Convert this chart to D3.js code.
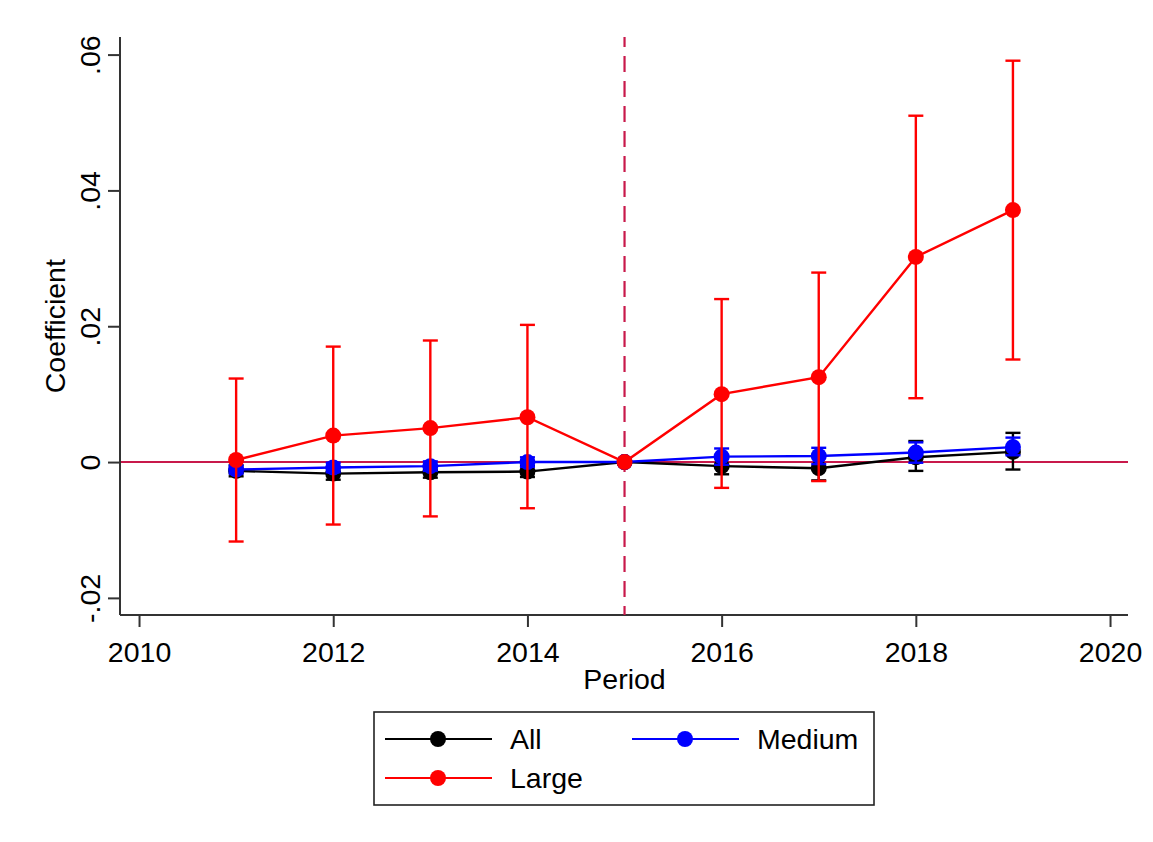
<!DOCTYPE html>
<html>
<head>
<meta charset="utf-8">
<script src="https://cdn.jsdelivr.net/npm/d3@7"></script>
<style>
  html, body { margin: 0; padding: 0; background: #fff; }
  svg { display: block; font-family: "Liberation Sans", Arial, sans-serif; }
</style>
</head>
<body>
<svg id="chart" width="1153" height="842"></svg>
<script>
// Event-study coefficients by period, with confidence bounds
const periods = [2011, 2012, 2013, 2014, 2015, 2016, 2017, 2018, 2019];

const allCoef  = [-0.0013, -0.0017, -0.0015, -0.0014, 0, -0.0006, -0.0009, 0.0007, 0.0015];
const allLo    = [-0.0021, -0.0026, -0.0023, -0.0022, 0, -0.0018, -0.0027, -0.0013, -0.0011];
const allHi    = [-0.0005, -0.0008, -0.0007, -0.0006, 0, 0.0006, 0.0009, 0.0031, 0.0043];

const medCoef  = [-0.0011, -0.0008, -0.0006, 0.0000, 0, 0.0008, 0.0009, 0.0014, 0.0022];
const medLo    = [-0.0017, -0.0015, -0.0013, -0.0007, 0, -0.0004, -0.0003, -0.0001, 0.0010];
const medHi    = [-0.0005, -0.0001, 0.0001, 0.0007, 0, 0.0020, 0.0021, 0.0029, 0.0036];

const largeCoef = [0.0003, 0.0039, 0.0050, 0.0066, 0, 0.0100, 0.0125, 0.0302, 0.0371];
const largeLo   = [-0.0117, -0.0092, -0.0080, -0.0068, 0, -0.0038, -0.0028, 0.0094, 0.0151];
const largeHi   = [0.0123, 0.0170, 0.0179, 0.0202, 0, 0.0240, 0.0279, 0.0510, 0.0591];

const xTicks = [2010, 2012, 2014, 2016, 2018, 2020];
const yTicks = [-0.02, 0, 0.02, 0.04, 0.06];
const yTickLabels = ["-.02", "0", ".02", ".04", ".06"];
const treatmentYear = 2015;

const seriesNames  = ["All", "Medium", "Large"];
const seriesColors = ["#000000", "#0000ff", "#ff0000"];
const refColor = "#c8194b";

const series = [
  { name: seriesNames[0], color: seriesColors[0], coef: allCoef,   lo: allLo,   hi: allHi },
  { name: seriesNames[1], color: seriesColors[1], coef: medCoef,   lo: medLo,   hi: medHi },
  { name: seriesNames[2], color: seriesColors[2], coef: largeCoef, lo: largeLo, hi: largeHi }
];

const svg = d3.select("#chart");
const plot = { left: 120, right: 1128, top: 37, bottom: 615 };

const x = d3.scaleLinear().domain([2009.804, 2020.185]).range([plot.left, plot.right]);
const y = d3.scaleLinear().domain([-0.02252, 0.06259]).range([plot.bottom, plot.top]);

const fontSize = 28.5;

// Y axis
const yAxis = svg.append("g").attr("transform", `translate(${plot.left},0)`)
  .call(d3.axisLeft(y).tickValues(yTicks).tickSize(12).tickFormat((d, i) => yTickLabels[i]));
yAxis.select(".domain").attr("stroke", "#333").attr("stroke-width", 2).attr("d", `M0,${plot.top}V${plot.bottom}`);
yAxis.selectAll(".tick line").attr("stroke", "#333").attr("stroke-width", 2);
yAxis.selectAll(".tick text")
  .attr("font-size", fontSize).attr("fill", "#000")
  .attr("text-anchor", "middle")
  .attr("x", null).attr("dy", null)
  .attr("transform", "translate(-20,0) rotate(-90)")
  .attr("y", 0);

// X axis
const xAxis = svg.append("g").attr("transform", `translate(0,${plot.bottom})`)
  .call(d3.axisBottom(x).tickValues(xTicks).tickSize(12).tickFormat(d3.format("d")));
xAxis.select(".domain").attr("stroke", "#333").attr("stroke-width", 2).attr("d", `M${plot.left},0H${plot.right}`);
xAxis.selectAll(".tick line").attr("stroke", "#333").attr("stroke-width", 2);
xAxis.selectAll(".tick text")
  .attr("font-size", fontSize).attr("fill", "#000")
  .attr("y", 47).attr("dy", null);

// Axis titles
svg.append("text")
  .attr("x", x(treatmentYear)).attr("y", 689)
  .attr("text-anchor", "middle").attr("font-size", fontSize)
  .text("Period");
svg.append("text")
  .attr("transform", `translate(65,${y(0.02)}) rotate(-90)`)
  .attr("text-anchor", "middle").attr("font-size", fontSize)
  .text("Coefficient");

// Reference lines
svg.append("line")
  .attr("x1", plot.left + 1).attr("x2", plot.right)
  .attr("y1", y(0)).attr("y2", y(0))
  .attr("stroke", refColor).attr("stroke-width", 2);
svg.append("line")
  .attr("x1", x(treatmentYear)).attr("x2", x(treatmentYear))
  .attr("y1", plot.top).attr("y2", plot.bottom)
  .attr("stroke", refColor).attr("stroke-width", 2.2)
  .attr("stroke-dasharray", "16,9").attr("stroke-dashoffset", 6);

// Series: connecting line, error bars, markers
const line = d3.line().x(d => x(d.p)).y(d => y(d.v));
const capHalf = 7.5;

series.forEach(s => {
  const pts = periods.map((p, i) => ({ p, v: s.coef[i], lo: s.lo[i], hi: s.hi[i] }));
  const g = svg.append("g");

  g.append("path").datum(pts)
    .attr("d", line).attr("fill", "none")
    .attr("stroke", s.color).attr("stroke-width", 2.4);

  const bars = pts.filter(d => d.lo !== d.hi);
  g.selectAll("line.ci").data(bars).join("line")
    .attr("x1", d => x(d.p)).attr("x2", d => x(d.p))
    .attr("y1", d => y(d.lo)).attr("y2", d => y(d.hi))
    .attr("stroke", s.color).attr("stroke-width", 2.4);
  ["lo", "hi"].forEach(k => {
    g.selectAll(`line.cap-${k}`).data(bars).join("line")
      .attr("x1", d => x(d.p) - capHalf).attr("x2", d => x(d.p) + capHalf)
      .attr("y1", d => y(d[k])).attr("y2", d => y(d[k]))
      .attr("stroke", s.color).attr("stroke-width", 2.4);
  });

  g.selectAll("circle").data(pts).join("circle")
    .attr("cx", d => x(d.p)).attr("cy", d => y(d.v))
    .attr("r", 8).attr("fill", s.color);
});

// Legend
const legend = svg.append("g");
legend.append("rect")
  .attr("x", 374).attr("y", 712).attr("width", 500).attr("height", 93)
  .attr("fill", "#fff").attr("stroke", "#222").attr("stroke-width", 1.6);

const legendPos = [
  { lx: 385, ty: 739 },
  { lx: 632, ty: 739 },
  { lx: 385, ty: 778 }
];
series.forEach((s, i) => {
  const p = legendPos[i];
  legend.append("line")
    .attr("x1", p.lx).attr("x2", p.lx + 107)
    .attr("y1", p.ty).attr("y2", p.ty)
    .attr("stroke", s.color).attr("stroke-width", 2.2);
  legend.append("circle")
    .attr("cx", p.lx + 53).attr("cy", p.ty).attr("r", 8).attr("fill", s.color);
  legend.append("text")
    .attr("x", p.lx + 125).attr("y", p.ty + 10)
    .attr("font-size", fontSize).text(s.name);
});
</script>
</body>
</html>
